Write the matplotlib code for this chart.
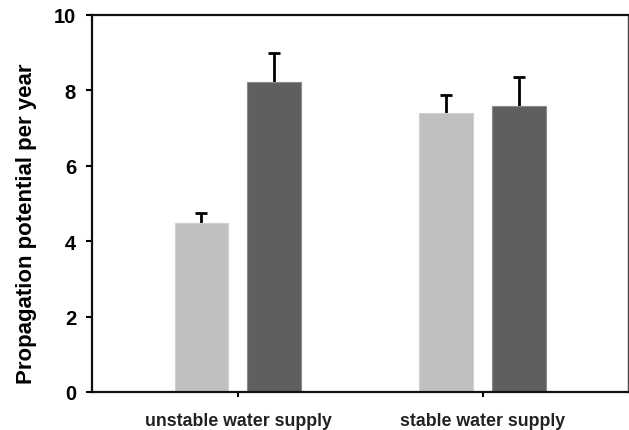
import numpy as np
import matplotlib.pyplot as plt

plt.rcParams["font.family"] = ["Liberation Sans", "DejaVu Sans"]
plt.rcParams["font.weight"] = "bold"

groups = ["unstable water supply", "stable water supply"]
light_vals = [4.47, 7.39]
light_err = [0.28, 0.50]
dark_vals = [8.21, 7.58]
dark_err = [0.77, 0.78]

fig = plt.figure(figsize=(6.29, 4.31), dpi=100)
ax = fig.add_axes([0.1463, 0.0882, 0.8517, 0.8747])

x = np.arange(len(groups))
w = 0.22
off = 0.149

for pos, vals, err, col, edge in [(x - off, light_vals, light_err, "#c0c0c0", "#d0d0d0"),
                                  (x + off, dark_vals, dark_err, "#5f5f5f", "#8a8a8a")]:
    # error bar first so the bar covers its lower half
    eb = ax.errorbar(pos, vals, yerr=[np.zeros(len(vals)), err], fmt="none",
                     ecolor="black", elinewidth=2, capsize=4, capthick=2, zorder=1)
    eb[1][0].set_visible(False)  # hide lower cap
    ax.bar(pos, vals, w, color=col, edgecolor=edge, linewidth=0.8, zorder=2)

ax.set_xlim(-0.596, 1.592)
ax.set_ylim(0, 10)
ax.set_yticks([0, 2, 4, 6, 8, 10])
ax.set_xticks(x)
ax.set_xticklabels(groups, fontsize=12.8, fontweight="bold", color="#222222")
ax.tick_params(axis="y", direction="out", length=4.5, width=1.5, labelsize=14.5, pad=7)
ax.tick_params(axis="x", direction="out", length=3.5, width=1.5, pad=11)
ax.set_ylabel("Propagation potential per year", fontsize=16, fontweight="bold")
ax.yaxis.set_label_coords(-0.103, 0.45)

for s in ["left", "bottom", "top"]:
    ax.spines[s].set_linewidth(1.6)
    ax.spines[s].set_color("#111111")
ax.spines["right"].set_linewidth(1.0)
ax.spines["right"].set_color("#444444")

fig.savefig("out.png", dpi=100)
